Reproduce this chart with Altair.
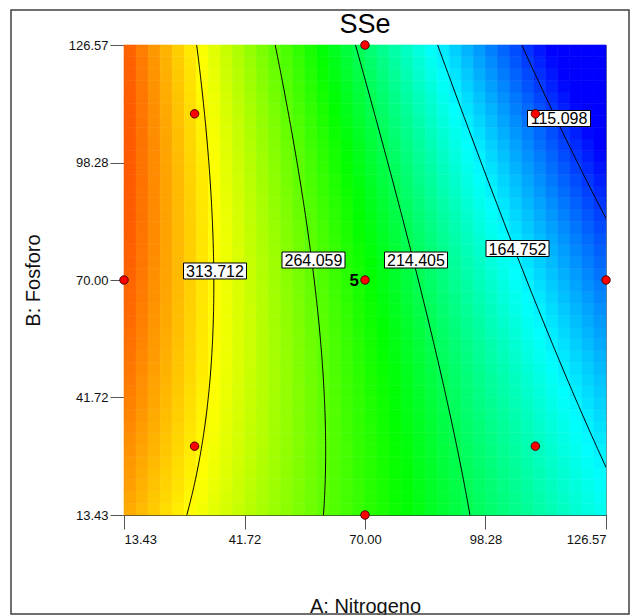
import altair as alt
import numpy as np
import pandas as pd

# ---- data ----
tick_vals = [13.43, 41.72, 70.00, 98.28, 126.57]
A_lo, A_hi = 13.43, 126.57
B_lo, B_hi = 13.43, 126.57

# fitted quadratic response surface (coded units): intercept, A, B, AB, A^2, B^2
coef = [239.6, -115.0, -20.5, -32.0, 5.0, -10.5]
n_cells = 40

contour_levels = [313.712, 264.059, 214.405, 164.752, 115.098]
contour_text = ["313.712", "264.059", "214.405", "164.752", "115.098"]
label_A = [34.79, 57.91, 81.97, 105.80, 115.54]
label_B = [72.17, 74.81, 74.81, 77.58, 108.88]

design_A = [13.43, 126.57, 70.00, 70.00, 30.00, 110.00, 30.00, 110.00, 70.00]
design_B = [70.00, 70.00, 13.43, 126.57, 30.00, 30.00, 110.00, 110.00, 70.00]
center_A = [70.00]
center_B = [70.00]
center_reps = ["5"]

color_stops = [100, 168, 236, 312, 385]
color_range = ["#0000ff", "#00ffff", "#00ff00", "#ffff00", "#ff0000"]

# ---- build tables ----
mid = (A_lo + A_hi) / 2
half = (A_hi - A_lo) / 2


def model(a, b):
    b0, bA, bB, bAB, bAA, bBB = coef
    return b0 + bA * a + bB * b + bAB * a * b + bAA * a * a + bBB * b * b


edges = np.linspace(-1, 1, n_cells + 1)
rows = []
for i in range(n_cells):
    for j in range(n_cells):
        a0, a1 = edges[i], edges[i + 1]
        c0, c1 = edges[j], edges[j + 1]
        v = model((a0 + a1) / 2, (c0 + c1) / 2)
        rows.append({"x": mid + a0 * half, "x2": mid + a1 * half,
                     "y": mid + c0 * half, "y2": mid + c1 * half, "v": v})
cells = pd.DataFrame(rows)

b0, bA, bB, bAB, bAA, bBB = coef
lines = []
for lev in contour_levels:
    for k, b in enumerate(np.linspace(-1, 1, 241)):
        qa = bAA
        qb = bA + bAB * b
        qc = b0 + bB * b + bBB * b * b - lev
        d = qb * qb - 4 * qa * qc
        if d < 0:
            continue
        a = 2 * qc / (-qb + np.sqrt(d))
        if -1.3 <= a <= 1.3:
            lines.append({"x": mid + a * half, "y": mid + b * half, "lev": lev, "k": k})
lines = pd.DataFrame(lines)

labels = pd.DataFrame({"x": label_A, "y": label_B, "t": contour_text})
design = pd.DataFrame({"x": design_A, "y": design_B})
center = pd.DataFrame({"x": center_A, "y": center_B, "t": center_reps})

FONT = "Liberation Sans"
xs = alt.Scale(domain=[A_lo, A_hi], nice=False, zero=False)
ys = alt.Scale(domain=[B_lo, B_hi], nice=False, zero=False)
cscale = alt.Scale(domain=color_stops, range=color_range, clamp=True, interpolate="rgb")

x_axis = alt.Axis(values=tick_vals, format=".2f", labelPadding=4,
                  title="A: Nitrogeno", titleY=97, titleBaseline="alphabetic")
y_axis = alt.Axis(values=tick_vals, format=".2f", labelPadding=2,
                  title="B: Fosforo", titleX=-91, titleY=235,
                  titleAngle=270, titleAlign="center", titleBaseline="middle")


def X():
    return alt.X("x:Q", scale=xs, axis=x_axis, title="A: Nitrogeno")


def Y():
    return alt.Y("y:Q", scale=ys, axis=y_axis, title="B: Fosforo")


heat = alt.Chart(cells).mark_rect(strokeWidth=0.6).encode(
    x=X(), x2="x2:Q", y=Y(), y2="y2:Q",
    color=alt.Color("v:Q", scale=cscale, legend=None),
    stroke=alt.Stroke("v:Q", scale=cscale, legend=None),
)

clines = alt.Chart(lines).mark_line(color="black", strokeWidth=1, clip=True).encode(
    x=X(), y=Y(), detail="lev:N", order="k:Q",
)

boxes = alt.Chart(labels).mark_rect(fill="white", stroke="black", strokeWidth=1,
                                    xOffset=-31.5, x2Offset=31.5, yOffset=-8, y2Offset=8).encode(
    x=X(), x2="x:Q", y=Y(), y2="y:Q",
)

texts = alt.Chart(labels).mark_text(font=FONT, fontSize=16, color="black",
                                    align="center", baseline="middle", dy=1).encode(
    x=X(), y=Y(), text="t:N",
)

pts = alt.Chart(design).mark_circle(fill="#ff0000", stroke="#3a0000", strokeWidth=0.9,
                                    size=72, opacity=1).encode(
    x=X(), y=Y(),
)

reps = alt.Chart(center).mark_text(font=FONT, fontSize=17, fontWeight="bold", color="black",
                                   align="right", baseline="middle", dx=-6, dy=1).encode(
    x=X(), y=Y(), text="t:N",
)

frame = alt.Chart(pd.DataFrame({"k": [0]})).mark_rect(filled=False, stroke="#404040",
                                                       strokeWidth=1.5).encode(
    x=alt.value(-113), x2=alt.value(505), y=alt.value(-35), y2=alt.value(569),
)

chart = alt.layer(heat, clines, boxes, texts, pts, reps, frame).properties(
    width=482, height=470,
    title=alt.TitleParams("SSe", font=FONT, fontSize=27, fontWeight="normal",
                          anchor="middle", offset=12, baseline="alphabetic",
                          color="black", frame="group", dy=63),
    autosize=alt.AutoSizeParams(type="none"),
    padding={"left": 124, "top": 45, "right": 26, "bottom": 100},
).configure_view(stroke="#808080", strokeWidth=1).configure_axis(
    labelFont=FONT, labelFontSize=13, labelColor="#111111",
    tickColor="#555555", domainColor="#333333", tickSize=14, grid=False,
    titleFont=FONT, titleFontSize=20, titleFontWeight="normal", titleColor="#111111",
)

chart.save("out.html", embed_options={"renderer": "svg", "actions": False})
